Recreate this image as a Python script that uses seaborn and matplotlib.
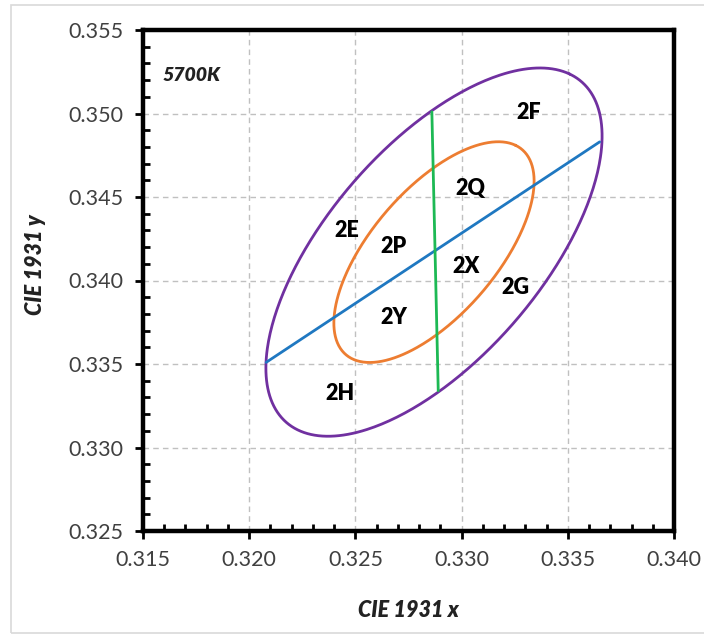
import numpy as np
import pandas as pd
import matplotlib
matplotlib.use("Agg")
import matplotlib.pyplot as plt
from matplotlib.ticker import MultipleLocator, FormatStrFormatter
from matplotlib.patches import Rectangle
import seaborn as sns

# 5700K nominal chromaticity centre (CIE 1931 x, y)
center_x = 0.3287
center_y = 0.3417

# Ellipse definitions: semi-major, semi-minor, rotation (deg)
ellipse_names = ["outer", "inner"]
ellipse_a = [0.01243, 0.00746]
ellipse_b = [0.00545, 0.00320]
ellipse_theta = [59.09, 59.09]
ellipse_colors = ["#7030A0", "#ED7D31"]

# Dividing lines
blue_x = [0.3208, 0.3365]
blue_y = [0.3351, 0.3483]
green_x = [0.3286, 0.3289]
green_y = [0.3501, 0.3334]

# Bin labels
bin_labels = ["2F", "2Q", "2E", "2P", "2X", "2G", "2Y", "2H"]
bin_x = [0.33316, 0.33042, 0.32461, 0.32679, 0.33019, 0.33255, 0.32679, 0.32429]
bin_y = [0.35008, 0.34553, 0.34301, 0.34201, 0.34081, 0.33961, 0.33781, 0.33322]

x_ticks = [0.315, 0.320, 0.325, 0.330, 0.335, 0.340]
y_ticks = [0.325, 0.330, 0.335, 0.340, 0.345, 0.350, 0.355]

sns.set_theme(style="white")
plt.rcParams["font.family"] = ["Lato", "DejaVu Sans"]

W, H = 704, 638
fig = plt.figure(figsize=(W / 100, H / 100), dpi=100)
ax = fig.add_axes([143 / W, (H - 531) / H, (674 - 143) / W, (531 - 30) / H])

# light outer frame
fig.patches.append(Rectangle((11 / W, 5 / H), 1.2, (633 - 5) / H, transform=fig.transFigure,
                             fill=False, edgecolor="#d9d9d9", linewidth=1.2))

t = np.linspace(0, 2 * np.pi, 400)
for name, a, b, th, col in zip(ellipse_names, ellipse_a, ellipse_b, ellipse_theta, ellipse_colors):
    r = np.deg2rad(th)
    ex = center_x + a * np.cos(t) * np.cos(r) - b * np.sin(t) * np.sin(r)
    ey = center_y + a * np.cos(t) * np.sin(r) + b * np.sin(t) * np.cos(r)
    df = pd.DataFrame({"x": ex, "y": ey})
    sns.lineplot(data=df, x="x", y="y", sort=False, estimator=None, color=col, linewidth=2.0, ax=ax)

sns.lineplot(x=blue_x, y=blue_y, sort=False, estimator=None, color="#1F78C1", linewidth=2.0, ax=ax)
sns.lineplot(x=green_x, y=green_y, sort=False, estimator=None, color="#1DB954", linewidth=2.0, ax=ax)

for lab, lx, ly in zip(bin_labels, bin_x, bin_y):
    ax.text(lx, ly, lab, ha="center", va="center", fontsize=15.5, fontweight="heavy", color="black")

ax.text(0.3159, 0.3523, "5700K", ha="left", va="center", fontsize=14,
        fontweight="heavy", fontstyle="italic", color="#222222")

ax.set_xlim(x_ticks[0], x_ticks[-1])
ax.set_ylim(y_ticks[0], y_ticks[-1])
ax.set_xticks(x_ticks)
ax.set_yticks(y_ticks)
ax.xaxis.set_major_formatter(FormatStrFormatter("%.3f"))
ax.yaxis.set_major_formatter(FormatStrFormatter("%.3f"))
ax.xaxis.set_minor_locator(MultipleLocator(0.001))
ax.yaxis.set_minor_locator(MultipleLocator(0.001))

ax.grid(True, which="major", color="#c0c0c0", linestyle=(0, (4, 3)), linewidth=1.0)
ax.set_axisbelow(True)

for s in ax.spines.values():
    s.set_visible(True)
    s.set_color("black")
    s.set_linewidth(3.2)

ax.tick_params(which="major", direction="out", length=6, width=2, color="black",
               labelsize=15.5, labelcolor="#404040", pad=8, bottom=True, left=True)
ax.tick_params(which="minor", direction="in", length=5, width=2, color="black",
               bottom=True, left=True)

ax.set_xlabel("CIE 1931 x", fontsize=15.5, fontweight="heavy", fontstyle="italic", color="#222222")
ax.set_ylabel("CIE 1931 y", fontsize=15.5, fontweight="heavy", fontstyle="italic", color="#222222")
ax.xaxis.set_label_coords(0.5, -0.138)
ax.yaxis.set_label_coords(-0.183, 0.531)

fig.savefig("out.png", dpi=100)
